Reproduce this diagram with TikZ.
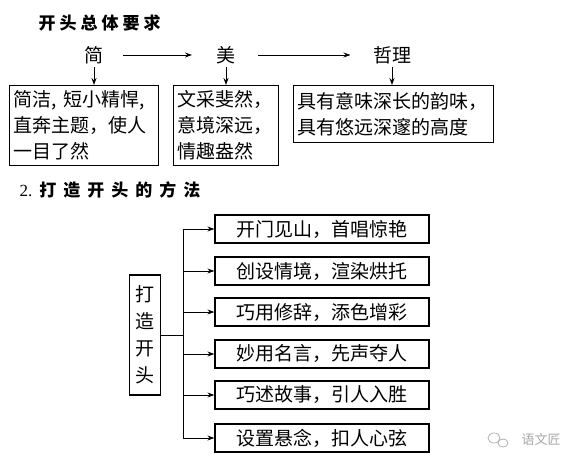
\documentclass[tikz,border=0pt]{standalone}
\usepackage{fontspec}
\setmainfont{Noto Sans CJK SC}
\newfontfamily\numfont{Liberation Serif}
\usetikzlibrary{arrows.meta,positioning,calc}

\tikzset{
  box/.style={draw, line width=1.2pt, inner sep=4pt, align=left, anchor=north west,
    font=\fontsize{19}{26}\selectfont},
  way/.style={draw, line width=1.2pt, minimum width=214pt, minimum height=28pt,
    inner sep=0pt, font=\fontsize{19}{22}\selectfont},
  head/.style={font=\fontsize{19}{22}\selectfont},
  title/.style={anchor=west, font=\bfseries\fontsize{17}{20}\selectfont},
  arr/.style={-{Stealth[length=7pt,width=5pt]}, line width=1pt},
}

\begin{document}
\begin{tikzpicture}[x=1pt,y=-1pt]
\useasboundingbox (0,0) rectangle (579,466);

% part 1
\node[title, name=t1] at (35,23) {开\kern4pt 头\kern4pt 总\kern4pt 体\kern4pt 要\kern4pt 求};

\node[head, name=jian] at (94,55) {简};
\node[head, name=mei] at (226,55) {美};
\node[head, name=zheli] at (392,55) {哲理};

\draw[arr, shorten <=16pt, shorten >=21pt] (jian) -- (mei);
\draw[arr, shorten <=19pt, shorten >=19pt] (mei) -- (zheli);

\node[box, name=b1, minimum width=149pt, minimum height=80pt, text width=141pt] at (9,85)
  {简洁, 短小精悍,\\直奔主题，使人\\一目了然};
\node[box, name=b2, minimum width=105pt, minimum height=80pt, text width=97pt] at (173,85)
  {文采斐然，\\意境深远，\\情趣盎然};
\node[box, name=b3, minimum width=200pt, minimum height=57pt, text width=192pt] at (293,85)
  {具有意味深长的韵味，\\具有悠远深邃的高度};

\draw[arr] (jian) -- (jian |- b1.north);
\draw[arr] (mei) -- (mei |- b2.north);
\draw[arr] (zheli) -- (zheli |- b3.north);

% part 2
\node[title, name=t2] at (16,190) {{\numfont\mdseries 2.}\kern7pt 打\kern7pt 造\kern7pt 开\kern7pt 头\kern7pt 的\kern7pt 方\kern7pt 法};

\node[draw, line width=1.2pt, name=dz, minimum width=31pt, minimum height=120pt,
  inner sep=0pt, align=center, font=\fontsize{19}{27}\selectfont] at (145,335) {打\\造\\开\\头};

\node[way, name=m1] at (322,229) {开门见山，首唱惊艳};
\node[way, name=m2] at (322,271) {创设情境，渲染烘托};
\node[way, name=m3] at (322,312) {巧用修辞，添色增彩};
\node[way, name=m4] at (322,354) {妙用名言，先声夺人};
\node[way, name=m5] at (322,395) {巧述故事，引人入胜};
\node[way, name=m6] at (322,438) {设置悬念，扣人心弦};

\coordinate (spine) at (183,0);
\draw[line width=1pt] (dz.east) -- (spine |- dz.east);
\draw[line width=1pt] (spine |- m1) -- (spine |- m6);
\draw[arr] (spine |- m1) -- (m1.west);
\draw[arr] (spine |- m2) -- (m2.west);
\draw[arr] (spine |- m3) -- (m3.west);
\draw[arr] (spine |- m4) -- (m4.west);
\draw[arr] (spine |- m5) -- (m5.west);
\draw[arr] (spine |- m6) -- (m6.west);

% watermark
\draw[gray!60, line width=0.8pt] (494,438) ellipse (6pt and 5pt);
\draw[gray!60, line width=0.8pt] (503,443) ellipse (5pt and 4pt);
\node[text=gray!70, font=\fontsize{13}{15}\selectfont, name=wm] at (541,440) {语文匠};
\end{tikzpicture}
\end{document}
